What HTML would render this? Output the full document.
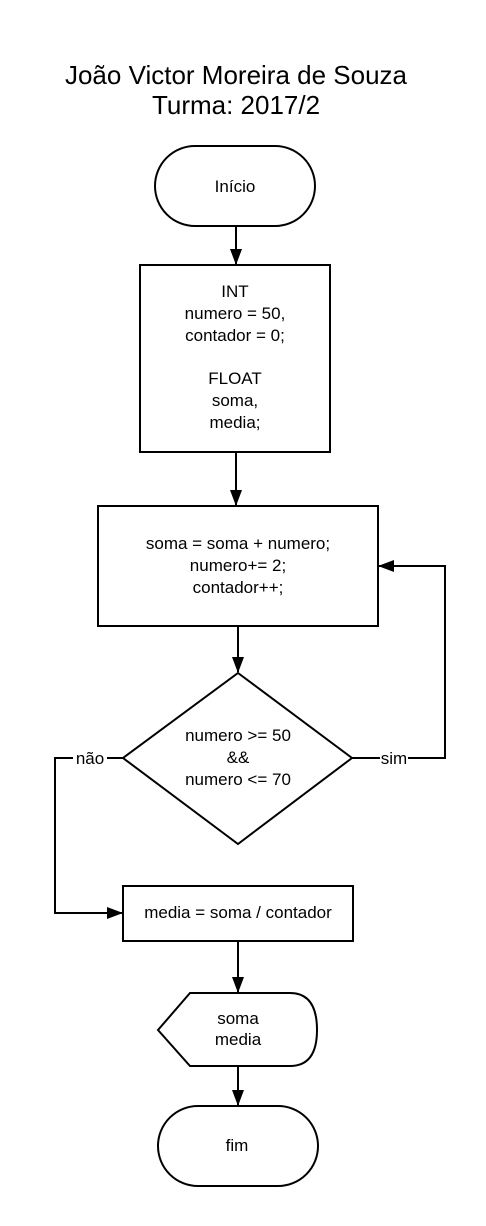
<!DOCTYPE html>
<html><head><style>body{margin:0;background:#fff}svg{display:block}text{font-family:"Liberation Sans",sans-serif;fill:#000}</style></head><body>
<svg width="486" height="1226" viewBox="0 0 486 1226">
<defs><marker id="a" markerWidth="16" markerHeight="12" refX="15" refY="6" orient="auto" markerUnits="userSpaceOnUse"><path d="M0,0 L16,6 L0,12 z" fill="#000"/></marker></defs>
<g stroke="#000" stroke-width="2" fill="none">
<rect x="155" y="146" width="160" height="80" rx="40"/>
<rect x="140" y="265" width="190" height="187"/>
<rect x="98" y="506" width="280" height="120"/>
<path d="M238,673 L352,758 L238,844 L123,758 Z"/>
<rect x="123" y="886" width="230" height="55"/>
<path d="M190,993 L290,993 Q317,993 317,1030 Q317,1066 290,1066 L190,1066 L158,1030 Z"/>
<rect x="158" y="1106" width="160" height="80" rx="40"/>
<line x1="236" y1="226" x2="236" y2="264" marker-end="url(#a)"/>
<line x1="236" y1="452" x2="236" y2="505" marker-end="url(#a)"/>
<line x1="238" y1="626" x2="238" y2="672" marker-end="url(#a)"/>
<path d="M352,758 H380 M408,758 H445 V566 H379" marker-end="url(#a)"/>
<path d="M123,758 H107 M73,758 H55 V913 H122" marker-end="url(#a)"/>
<line x1="238" y1="941" x2="238" y2="992" marker-end="url(#a)"/>
<line x1="238" y1="1066" x2="238" y2="1105" marker-end="url(#a)"/>
</g>
<g font-size="26" text-anchor="middle"><text x="236" y="84">João Victor Moreira de Souza</text><text x="236" y="114">Turma: 2017/2</text></g>
<g font-size="17" text-anchor="middle">
<text x="235" y="192">Início</text>
<text x="235" y="297">INT</text><text x="235" y="319">numero = 50,</text><text x="235" y="341">contador = 0;</text>
<text x="235" y="384">FLOAT</text><text x="235" y="406">soma,</text><text x="235" y="428">media;</text>
<text x="238" y="549">soma = soma + numero;</text><text x="238" y="571">numero+= 2;</text><text x="238" y="593">contador++;</text>
<text x="238" y="741">numero &gt;= 50</text><text x="238" y="763">&amp;&amp;</text><text x="238" y="785">numero &lt;= 70</text>
<text x="90" y="764">não</text><text x="394" y="764">sim</text>
<text x="238" y="918">media = soma / contador</text>
<text x="238" y="1024">soma</text><text x="238" y="1045">media</text>
<text x="237" y="1151">fim</text>
</g>
</svg>
</body></html>
